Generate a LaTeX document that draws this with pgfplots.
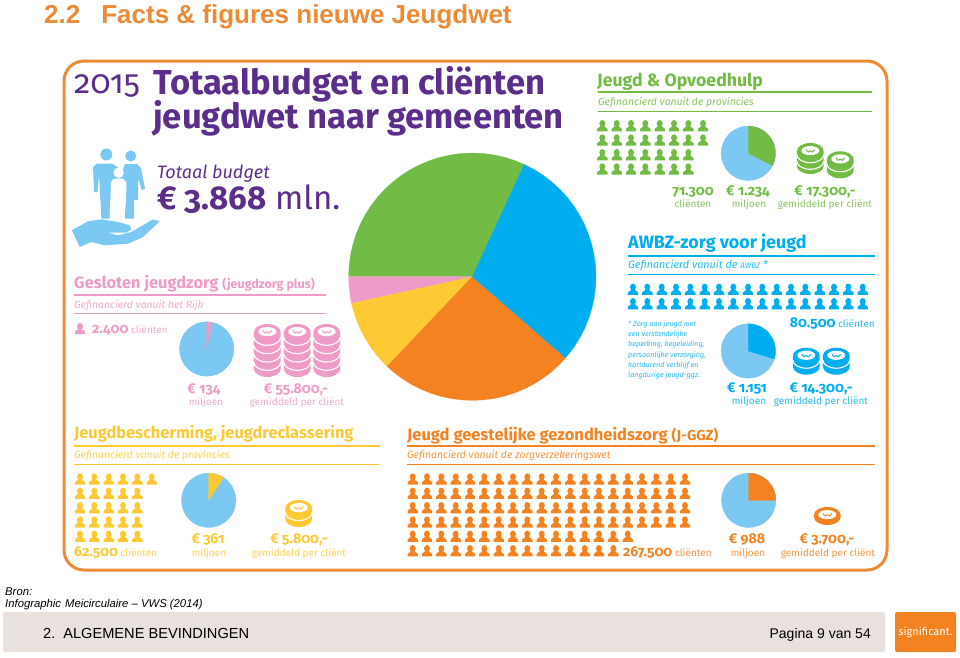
\documentclass[border=0pt]{standalone}
\usepackage{fontspec}
\usepackage{pgfplots}
\usepgfplotslibrary{polar}
\pgfplotsset{compat=1.18}
\setmainfont[Numbers=OldStyle]{Fira Sans}
\newfontfamily\lib{Liberation Sans}
\definecolor{cpurple}{HTML}{5B2E8C}
\definecolor{cgreen}{HTML}{72BB44}
\definecolor{cblue}{HTML}{00AEEF}
\definecolor{cpink}{HTML}{EE9BC7}
\definecolor{cyel}{HTML}{FFC933}
\definecolor{corange}{HTML}{F58220}
\definecolor{clight}{HTML}{7BC8F2}
\definecolor{cframe}{HTML}{EC8A36}
\definecolor{cbar}{HTML}{E9E1DD}
\newcommand\fs[1]{\fontsize{#1}{#1}\selectfont}
% person mark, about 10 x 11 px
\pgfdeclareplotmark{person}{%
  \pgfpathellipse{\pgfqpoint{0pt}{2.2pt}}{\pgfqpoint{3pt}{0pt}}{\pgfqpoint{0pt}{3.5pt}}%
  \pgfpathmoveto{\pgfqpoint{-5.2pt}{-5.6pt}}%
  \pgfpathlineto{\pgfqpoint{5.2pt}{-5.6pt}}%
  \pgfpathlineto{\pgfqpoint{5.2pt}{-3.2pt}}%
  \pgfpathcurveto{\pgfqpoint{4.4pt}{-1.8pt}}{\pgfqpoint{2.4pt}{-1.8pt}}{\pgfqpoint{1.7pt}{-0.4pt}}%
  \pgfpathlineto{\pgfqpoint{-1.7pt}{-0.4pt}}%
  \pgfpathcurveto{\pgfqpoint{-2.4pt}{-1.8pt}}{\pgfqpoint{-4.4pt}{-1.8pt}}{\pgfqpoint{-5.2pt}{-3.2pt}}%
  \pgfpathclose
  \pgfusepathqfill}
% coin stack: #1 side depth, #2 list of arc depths
\newcommand\coinstack[2]{%
  \pgfpathellipse{\pgfpointorigin}{\pgfqpoint{13.4pt}{0pt}}{\pgfqpoint{0pt}{8pt}}%
  \pgfpathmoveto{\pgfqpoint{-13.4pt}{0pt}}%
  \pgfpathlineto{\pgfqpoint{-13.4pt}{-#1pt}}%
  \pgfpatharc{180}{360}{13.4pt and 8pt}%
  \pgfpathlineto{\pgfqpoint{13.4pt}{0pt}}%
  \pgfpathclose
  \pgfusepathqfill
  \begin{pgfscope}%
    \pgfsetfillcolor{white}\pgfsetstrokecolor{white}\pgfsetlinewidth{1.1pt}%
    \foreach \d in {#2}{%
      \pgfpathmoveto{\pgfqpoint{-13.4pt}{-\d pt}}%
      \pgfpatharc{180}{360}{13.4pt and 8pt}%
      \pgfusepathqstroke}%
    \pgfpathellipse{\pgfqpoint{0pt}{0.4pt}}{\pgfqpoint{9pt}{0pt}}{\pgfqpoint{0pt}{4.6pt}}%
    \pgfusepathqfill
  \end{pgfscope}%
  \pgfsetlinewidth{1pt}%
  \pgfpathmoveto{\pgfqpoint{-4.2pt}{1.6pt}}%
  \pgfpathcurveto{\pgfqpoint{-3pt}{-1.6pt}}{\pgfqpoint{-1pt}{-1.6pt}}{\pgfqpoint{0pt}{0.2pt}}%
  \pgfpathcurveto{\pgfqpoint{1pt}{-1.6pt}}{\pgfqpoint{3pt}{-1.6pt}}{\pgfqpoint{4.2pt}{1.6pt}}%
  \pgfusepathqstroke}
\pgfdeclareplotmark{coinA}{\coinstack{15}{3.7,10.3}}
\pgfdeclareplotmark{coinB}{\coinstack{11}{4.5}}
\pgfdeclareplotmark{coinC}{\coinstack{37}{5.3,13.6,22,30.3}}
\pgfdeclareplotmark{coinD}{\coinstack{2}{}}
% T{anchor}{x}{y}{font}{colour}{text}
\newcommand\T[6]{\node[anchor=#1,text=#5,font=#4,inner sep=0pt] at (axis cs:#2,#3) {#6};}
\newcommand\rules[5]{%
  \addplot[#1,line width=1.6pt] coordinates {(#2,#4) (#3,#4)};
  \addplot[#1,line width=0.7pt] coordinates {(#2,#5) (#3,#5)};}
\pgfplotsset{
  pieax/.style={hide axis,scale only axis,clip=false,ymin=0,ymax=1,xmin=0,xmax=360,anchor=center},
  wedge/.style={fill=#1,draw=#1,line width=0.2pt,mark=none}}
\begin{document}
\begin{tikzpicture}
\useasboundingbox (0pt,0pt) rectangle (960pt,657pt);
\begin{axis}[at={(0pt,0pt)},anchor=south west,scale only axis,width=960pt,height=657pt,
  xmin=0,xmax=960,ymin=0,ymax=657,y dir=reverse,hide axis,clip=false]
% frame and footer
\addplot[cframe,line width=3pt,rounded corners=20pt] coordinates {(64,61) (887,61) (887,570) (64,570)} -- cycle;
\addplot[draw=none,fill=cbar,rounded corners=2pt] coordinates {(3,612) (885,612) (885,652) (3,652)} -- cycle;
\addplot[draw=none,fill=corange,rounded corners=2pt] coordinates {(895,612) (956,612) (956,652) (895,652)} -- cycle;
% family icon
\addplot[draw=none,fill=clight] coordinates {(93,167) (97,163.5) (112,163.5) (122,170) (122,190) (110,200) (109.5,218.5) (101.5,218.5) (100,192) (99,175) (97.5,192) (94,192)} -- cycle;
\addplot[draw=none,fill=clight] coordinates {(122,172) (125,164) (137,164) (141,168) (145,188.5) (142,190) (138,178) (138,200) (134,200) (134,218.5) (125,218.5) (125,200) (122,200)} -- cycle;
\addplot[draw=none,fill=white] coordinates {(111,182) (114,178.5) (123,178.5) (126.5,182) (126,200) (124.5,218.5) (110,218.5)} -- cycle;
\addplot[only marks,mark=*,mark size=5pt,color=white] coordinates {(118.7,172.7)};
\addplot[only marks,mark=*,mark size=5.7pt,color=clight] coordinates {(106.3,154.5)};
\addplot[only marks,mark=*,mark size=5.3pt,color=clight] coordinates {(130.7,156)};
\addplot[draw=none,fill=clight] coordinates {(72,230.3) (88,221.3) (101.3,219.3) (118,222) (129.7,225.3) (131.3,229.3) (126.3,232.7) (108,232.7) (118,235.3) (131.3,232) (153,219.3) (159.7,221.3) (143,237) (128,243.7) (104.7,245.3) (91.3,242) (79.7,247)} -- cycle;
% rules
\rules{cgreen}{598}{872}{92}{111.5}
\rules{cblue}{628}{875}{255.7}{274.5}
\rules{cpink}{74}{326}{294.7}{313.3}
\rules{cyel}{74}{380}{446}{464.7}
\rules{corange}{407}{875}{446}{464.5}
% small pie backgrounds
\addplot[only marks,mark=*,mark size=27.2pt,color=clight] coordinates {(748.3,153.3) (748.3,351) (206.7,349) (208.7,500.3) (748.7,500.3)};
% people
\addplot[only marks,mark=person,color=cgreen] coordinates {
(602.3,125.7) (616.7,125.7) (631,125.7) (645.3,125.7) (659.7,125.7) (674,125.7) (688.3,125.7) (703,125.7)
(602.3,140) (616.7,140) (631,140) (645.3,140) (659.7,140) (674,140) (688.3,140) (703,140)
(602.3,154.7) (616.7,154.7) (631,154.7) (645.3,154.7) (659.7,154.7) (674,154.7) (688.3,154.7)
(602.3,169) (616.7,169) (631,169) (645.3,169) (659.7,169) (674,169) (688.3,169)};
\addplot[only marks,mark=person,color=cblue] coordinates {
(633,289.3) (647.3,289.3) (661.7,289.3) (676,289.3) (690.3,289.3) (704.7,289.3) (719,289.3) (733.3,289.3) (748,289.3) (762.3,289.3) (776.7,289.3) (791,289.3) (805.3,289.3) (819.7,289.3) (834,289.3) (848.3,289.3) (862.7,289.3)
(633,303.7) (647.3,303.7) (661.7,303.7) (676,303.7) (690.3,303.7) (704.7,303.7) (719,303.7) (733.3,303.7) (748,303.7) (762.3,303.7) (776.7,303.7) (791,303.7) (805.3,303.7) (819.7,303.7) (834,303.7) (848.3,303.7) (862.7,303.7)};
\addplot[only marks,mark=person,color=cpink] coordinates {(80,328.5)};
\addplot[only marks,mark=person,color=cyel] coordinates {
(80,479) (94.3,479) (108.7,479) (123,479) (137.3,479) (151.7,479)
(80,493.3) (94.3,493.3) (108.7,493.3) (123,493.3) (137.3,493.3)
(80,507.7) (94.3,507.7) (108.7,507.7) (123,507.7) (137.3,507.7)
(80,522) (94.3,522) (108.7,522) (123,522) (137.3,522)
(80,536.3) (94.3,536.3) (108.7,536.3) (123,536.3) (137.3,536.3)};
\addplot[only marks,mark=person,color=corange] coordinates {
(412.7,479) (427,479) (441.3,479) (455.7,479) (470,479) (484.3,479) (498.7,479) (513,479) (527.3,479) (541.7,479) (556,479) (570.3,479) (584.7,479) (599,479) (613.3,479) (627.7,479) (642,479) (656.3,479) (670.7,479) (685,479)
(412.7,493.3) (427,493.3) (441.3,493.3) (455.7,493.3) (470,493.3) (484.3,493.3) (498.7,493.3) (513,493.3) (527.3,493.3) (541.7,493.3) (556,493.3) (570.3,493.3) (584.7,493.3) (599,493.3) (613.3,493.3) (627.7,493.3) (642,493.3) (656.3,493.3) (670.7,493.3) (685,493.3)
(412.7,507.7) (427,507.7) (441.3,507.7) (455.7,507.7) (470,507.7) (484.3,507.7) (498.7,507.7) (513,507.7) (527.3,507.7) (541.7,507.7) (556,507.7) (570.3,507.7) (584.7,507.7) (599,507.7) (613.3,507.7) (627.7,507.7) (642,507.7) (656.3,507.7) (670.7,507.7) (685,507.7)
(412.7,522) (427,522) (441.3,522) (455.7,522) (470,522) (484.3,522) (498.7,522) (513,522) (527.3,522) (541.7,522) (556,522) (570.3,522) (584.7,522) (599,522) (613.3,522) (627.7,522) (642,522) (656.3,522) (670.7,522) (685,522)
(412.7,536.3) (427,536.3) (441.3,536.3) (455.7,536.3) (470,536.3) (484.3,536.3) (498.7,536.3) (513,536.3) (527.3,536.3) (541.7,536.3) (556,536.3) (570.3,536.3) (584.7,536.3) (599,536.3) (613.3,536.3) (627.7,536.3)
(412.7,550.7) (427,550.7) (441.3,550.7) (455.7,550.7) (470,550.7) (484.3,550.7) (498.7,550.7) (513,550.7) (527.3,550.7) (541.7,550.7) (556,550.7) (570.3,550.7) (584.7,550.7) (599,550.7) (613.3,550.7)};
% coins
\addplot[only marks,mark=coinA,color=cgreen] coordinates {(810.3,151)};
\addplot[only marks,mark=coinB,color=cgreen] coordinates {(840.3,159.3)};
\addplot[only marks,mark=coinB,color=cblue] coordinates {(806.3,355.7) (836.3,355.7)};
\addplot[only marks,mark=coinC,color=cpink] coordinates {(267.3,332) (297.3,332) (326.7,332)};
\addplot[only marks,mark=coinB,color=cyel] coordinates {(298.7,508)};
\addplot[only marks,mark=coinD,color=corange] coordinates {(827.3,515)};
% page texts
\T{base west}{44}{23}{\lib\bfseries\fs{26}}{cframe}{2.2\hspace{21pt}Facts \& figures nieuwe Jeugdwet}
\T{base west}{5}{595}{\lib\itshape\fs{11.3}}{black}{Bron:}
\T{base west}{5}{607}{\lib\itshape\fs{11.3}}{black}{Infographic\hspace{4pt}Meicirculaire – VWS (2014)}
\T{base west}{43}{638}{\lib\fs{14.6}}{black}{2.\hspace{8pt}ALGEMENE BEVINDINGEN}
\T{base east}{871}{638}{\lib\fs{14}}{black}{Pagina 9 van 54}
\T{center}{925.5}{632}{\fs{11}}{white}{significant.}
% headline
\T{base west}{74}{93}{\fs{33}}{cpurple}{2015}
\T{base west}{153}{94}{\bfseries\fs{34.6}}{cpurple}{Totaalbudget en cliënten}
\T{base west}{153}{128}{\bfseries\fs{34.6}}{cpurple}{jeugdwet naar gemeenten}
\T{base west}{157}{178}{\itshape\fs{18}}{cpurple}{Totaal budget}
\T{base west}{157}{209}{\fs{33}}{cpurple}{\textbf{€ 3.868} mln.}
% Jeugd en opvoedhulp
\T{base west}{597}{86}{\bfseries\fs{17.7}}{cgreen}{Jeugd \& Opvoedhulp}
\T{base west}{598}{105}{\itshape\fs{10.4}}{cgreen!85!white}{Gefinancierd vanuit de provincies}
\T{base}{693}{195}{\bfseries\fs{14.2}}{cgreen}{71.300}
\T{base}{693}{207}{\fs{10}}{cgreen!85!white}{cliënten}
\T{base}{748}{195}{\bfseries\fs{14.2}}{cgreen}{€ 1.234}
\T{base}{749}{207}{\fs{10}}{cgreen!85!white}{miljoen}
\T{base}{825}{195}{\bfseries\fs{14.2}}{cgreen}{€ 17.300,-}
\T{base}{825}{207}{\fs{10}}{cgreen!85!white}{gemiddeld per cliënt}
% AWBZ
\T{base west}{628}{248}{\bfseries\fs{17.9}}{cblue}{AWBZ-zorg voor jeugd}
\T{base west}{628}{268}{\itshape\fs{10.8}}{cblue!85!white}{Gefinancierd vanuit de {\fs{8}AWBZ} *}
\T{base east}{875}{327}{\fs{10}}{cblue!85!white}{{\bfseries\fs{14.2}\color{cblue}80.500} cliënten}
\T{base west}{628}{326.7}{\itshape\fs{7.2}}{cblue!85!white}{* Zorg aan jeugd met}
\T{base west}{628}{336.7}{\itshape\fs{7.2}}{cblue!85!white}{een verstandelijke}
\T{base west}{628}{346.7}{\itshape\fs{7.2}}{cblue!85!white}{beperking, begeleiding,}
\T{base west}{628}{357.3}{\itshape\fs{7.2}}{cblue!85!white}{persoonlijke verzorging,}
\T{base west}{628}{367.3}{\itshape\fs{7.2}}{cblue!85!white}{kortdurend verblijf en}
\T{base west}{628}{377.3}{\itshape\fs{7.2}}{cblue!85!white}{langdurige jeugd-ggz.}
\T{base}{747}{392}{\bfseries\fs{14.2}}{cblue}{€ 1.151}
\T{base}{749}{404.5}{\fs{10}}{cblue!85!white}{miljoen}
\T{base}{821}{392}{\bfseries\fs{14.2}}{cblue}{€ 14.300,-}
\T{base}{821}{404.5}{\fs{10}}{cblue!85!white}{gemiddeld per cliënt}
% Gesloten jeugdzorg
\T{base west}{74}{288}{\bfseries\fs{16.4}}{cpink}{Gesloten jeugdzorg {\fs{12.5}(jeugdzorg plus)}}
\T{base west}{74}{308}{\itshape\fs{10.4}}{cpink!85!white}{Gefinancierd vanuit het Rijk}
\T{base west}{92}{333.5}{\fs{10}}{cpink!85!white}{{\bfseries\fs{14.2}\color{cpink}2.400} cliënten}
\T{base}{204}{393.3}{\bfseries\fs{14.2}}{cpink}{€ 134}
\T{base}{206}{405}{\fs{10}}{cpink!85!white}{miljoen}
\T{base}{296}{393.3}{\bfseries\fs{14.2}}{cpink}{€ 55.800,-}
\T{base}{297}{405}{\fs{10}}{cpink!85!white}{gemiddeld per cliënt}
% Jeugdbescherming
\T{base west}{74}{438.5}{\bfseries\fs{16.4}}{cyel}{Jeugdbescherming, jeugdreclassering}
\T{base west}{74}{458.3}{\itshape\fs{10.4}}{cyel!85!white}{Gefinancierd vanuit de provincies}
\T{base west}{74}{556}{\fs{10}}{cyel!85!white}{{\bfseries\fs{14.2}\color{cyel}62.500} cliënten}
\T{base}{208}{543.3}{\bfseries\fs{14.2}}{cyel}{€ 361}
\T{base}{209}{556}{\fs{10}}{cyel!85!white}{miljoen}
\T{base}{299}{543.3}{\bfseries\fs{14.2}}{cyel}{€ 5.800,-}
\T{base}{299}{556}{\fs{10}}{cyel!85!white}{gemiddeld per cliënt}
% J-GGZ
\T{base west}{407}{440.7}{\bfseries\fs{16.5}}{corange}{Jeugd geestelijke gezondheidszorg {\fs{14.5}(J-GGZ)}}
\T{base west}{407}{458.3}{\itshape\fs{10.4}}{corange!85!white}{Gefinancierd vanuit de zorgverzekeringswet}
\T{base west}{623}{556}{\fs{10}}{corange!85!white}{{\bfseries\fs{14.2}\color{corange}267.500} cliënten}
\T{base}{747}{543.3}{\bfseries\fs{14.2}}{corange}{€ 988}
\T{base}{748}{556}{\fs{10}}{corange!85!white}{miljoen}
\T{base}{827}{543.3}{\bfseries\fs{14.2}}{corange}{€ 3.700,-}
\T{base}{828}{556}{\fs{10}}{corange!85!white}{gemiddeld per cliënt}
\end{axis}
% main pie: budget shares, angle in degrees and radius 1
\begin{polaraxis}[pieax,at={(472.3pt,380.3pt)},width=247.4pt,height=247.4pt]
\addplot[wedge=cgreen] coordinates {(0,0) (65.2,1) (70,1) (75,1) (80,1) (85,1) (90,1) (95,1) (100,1) (105,1) (110,1) (115,1) (120,1) (125,1) (130,1) (135,1) (140,1) (145,1) (150,1) (155,1) (160,1) (165,1) (170,1) (175,1) (180,1) (0,0)};
\addplot[wedge=cpink] coordinates {(0,0) (180,1) (185,1) (190,1) (192.5,1) (0,0)};
\addplot[wedge=cyel] coordinates {(0,0) (192.5,1) (195,1) (200,1) (205,1) (210,1) (215,1) (220,1) (225,1) (226.5,1) (0,0)};
\addplot[wedge=corange] coordinates {(0,0) (226.5,1) (230,1) (235,1) (240,1) (245,1) (250,1) (255,1) (260,1) (265,1) (270,1) (275,1) (280,1) (285,1) (290,1) (295,1) (300,1) (305,1) (310,1) (315,1) (319,1) (0,0)};
\addplot[wedge=cblue] coordinates {(0,0) (319,1) (325,1) (330,1) (335,1) (340,1) (345,1) (350,1) (355,1) (360,1) (365,1) (370,1) (375,1) (380,1) (385,1) (390,1) (395,1) (400,1) (405,1) (410,1) (415,1) (420,1) (425.2,1) (0,0)};
\end{polaraxis}
% small pies: the share of the total budget
\begin{polaraxis}[pieax,at={(748.3pt,503.7pt)},width=54.4pt,height=54.4pt]
\addplot[wedge=cgreen] coordinates {(0,0) (-27,1) (-20,1) (-10,1) (0,1) (10,1) (20,1) (30,1) (40,1) (50,1) (60,1) (70,1) (80,1) (90,1) (0,0)};
\end{polaraxis}
\begin{polaraxis}[pieax,at={(748.3pt,306pt)},width=54.4pt,height=54.4pt]
\addplot[wedge=cblue] coordinates {(0,0) (-17,1) (-10,1) (0,1) (10,1) (20,1) (30,1) (40,1) (50,1) (60,1) (70,1) (80,1) (90,1) (0,0)};
\end{polaraxis}
\begin{polaraxis}[pieax,at={(206.7pt,308pt)},width=54.4pt,height=54.4pt]
\addplot[wedge=cpink] coordinates {(0,0) (78,1) (84,1) (90,1) (0,0)};
\end{polaraxis}
\begin{polaraxis}[pieax,at={(208.7pt,156.7pt)},width=54.4pt,height=54.4pt]
\addplot[wedge=cyel] coordinates {(0,0) (57,1) (65,1) (75,1) (85,1) (90,1) (0,0)};
\end{polaraxis}
\begin{polaraxis}[pieax,at={(748.7pt,156.7pt)},width=54.4pt,height=54.4pt]
\addplot[wedge=corange] coordinates {(0,0) (0,1) (10,1) (20,1) (30,1) (40,1) (50,1) (60,1) (70,1) (80,1) (90,1) (0,0)};
\end{polaraxis}
\end{tikzpicture}
\end{document}
